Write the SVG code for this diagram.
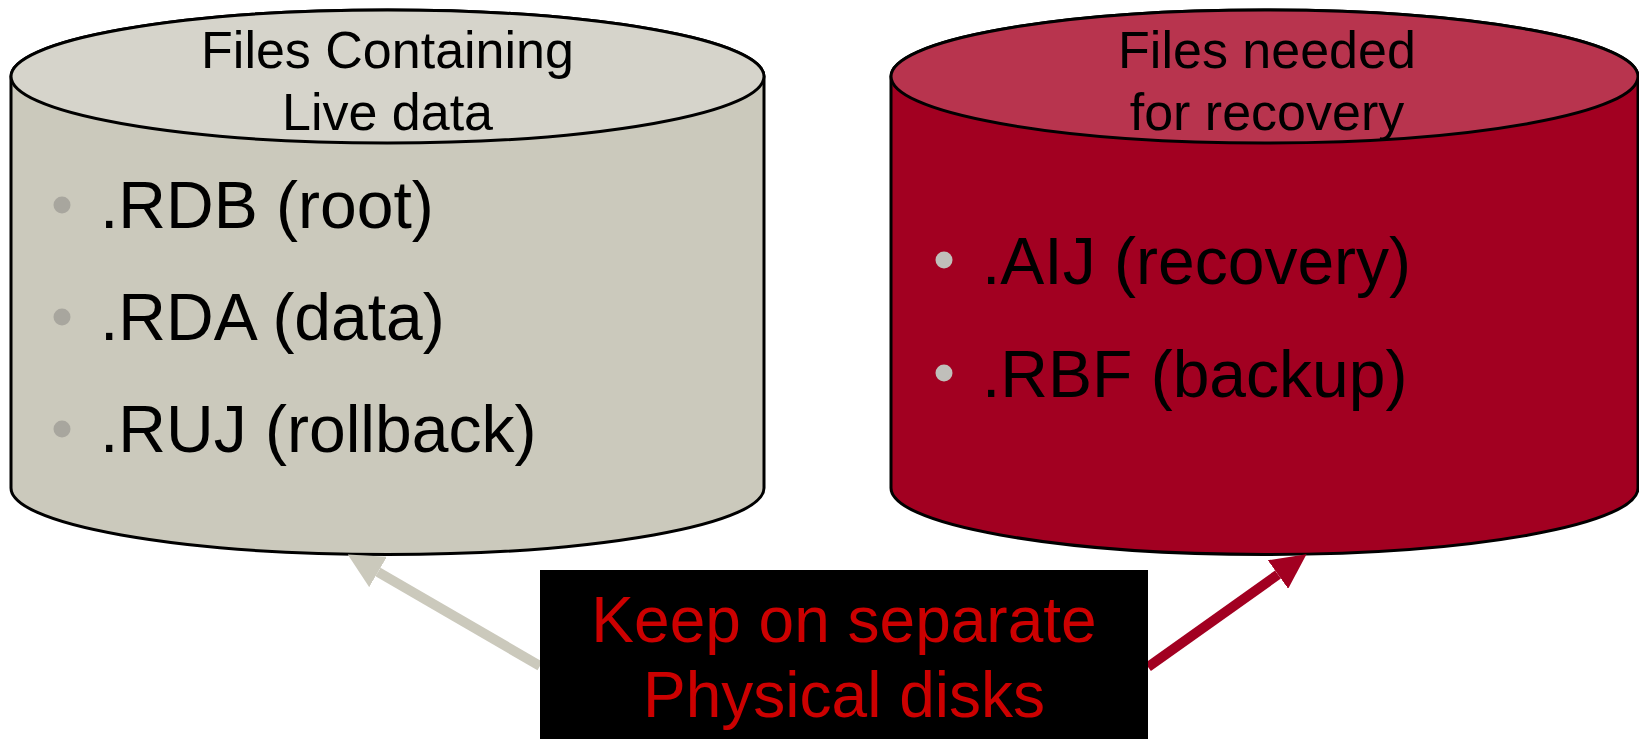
<svg xmlns="http://www.w3.org/2000/svg" width="1639" height="739" viewBox="0 0 1639 739">
  <defs>
    <style>
      .outline { stroke: #000; stroke-width: 3; }
      .hdr { font-family: "Liberation Sans", Arial, sans-serif; font-size: 52px; fill: #000; text-anchor: middle; }
      .item { font-family: "Liberation Sans", Arial, sans-serif; font-size: 66px; fill: #000; }
      .note { font-family: "Liberation Sans", Arial, sans-serif; font-size: 64px; fill: #CC0000; text-anchor: middle; }
      .conn { fill: none; stroke-width: 10; }
    </style>
    <marker id="headGray" viewBox="0 0 35 35" refX="0" refY="17.5" markerWidth="35" markerHeight="35" markerUnits="userSpaceOnUse" orient="auto">
      <path d="M0,0 L35,17.5 L0,35 Z" fill="#CBC9BC"/>
    </marker>
    <marker id="headRed" viewBox="0 0 35 35" refX="0" refY="17.5" markerWidth="35" markerHeight="35" markerUnits="userSpaceOnUse" orient="auto">
      <path d="M0,0 L35,17.5 L0,35 Z" fill="#A20021"/>
    </marker>
  </defs>
  <rect width="1639" height="739" fill="#FFFFFF"/>

  <g id="live-disk">
    <path class="outline" fill="#CBC9BC" d="M11,76.5 L11,488 A376.5,66.5 0 0 0 764,488 L764,76.5 A376.5,66.5 0 0 0 11,76.5 Z"/>
    <ellipse class="outline" fill="#D6D4CB" cx="387.5" cy="76.5" rx="376.5" ry="66.5"/>
    <text class="hdr" x="387.5" y="68">Files Containing</text>
    <text class="hdr" x="387.5" y="130">Live data</text>
    <circle cx="62" cy="205" r="8.5" fill="#A8A69E"/>
    <text class="item" x="100" y="228">.RDB (root)</text>
    <circle cx="62" cy="317" r="8.5" fill="#A8A69E"/>
    <text class="item" x="100" y="340">.RDA (data)</text>
    <circle cx="62" cy="429" r="8.5" fill="#A8A69E"/>
    <text class="item" x="100" y="452">.RUJ (rollback)</text>
  </g>

  <g id="recovery-disk">
    <path class="outline" fill="#A20021" d="M891,76.5 L891,488 A373.5,66.5 0 0 0 1638,488 L1638,76.5 A373.5,66.5 0 0 0 891,76.5 Z"/>
    <ellipse class="outline" fill="#B8344E" cx="1264.5" cy="76.5" rx="373.5" ry="66.5"/>
    <text class="hdr" x="1267" y="68">Files needed</text>
    <text class="hdr" x="1267" y="130">for recovery</text>
    <circle cx="944" cy="260" r="8.5" fill="#C0BFBA"/>
    <text class="item" x="982" y="284">.AIJ (recovery)</text>
    <circle cx="944" cy="373" r="8.5" fill="#C0BFBA"/>
    <text class="item" x="982" y="397">.RBF (backup)</text>
  </g>

  <g id="connectors">
    <line class="conn" stroke="#CBC9BC" x1="540" y1="666" x2="378" y2="572" marker-end="url(#headGray)"/>
    <line class="conn" stroke="#A20021" x1="1148" y1="667" x2="1278" y2="574.5" marker-end="url(#headRed)"/>
  </g>

  <g id="note">
    <rect x="540" y="570" width="608" height="169" fill="#000000"/>
    <text class="note" x="844" y="642">Keep on separate</text>
    <text class="note" x="844" y="717">Physical disks</text>
  </g>
</svg>
